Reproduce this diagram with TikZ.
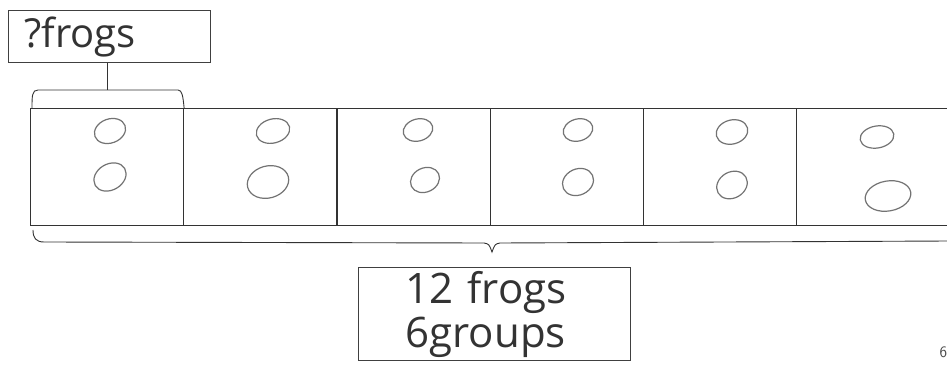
\documentclass[tikz,border=0pt]{standalone}
\usepackage{fontspec}
\setmainfont{Open Sans}
\begin{document}
\begin{tikzpicture}[x=1pt,y=-1pt,
  pen/.style={draw=black!80,line width=1.1pt},
  frog/.style={draw=black!55,line width=1.2pt},
  cellbox/.style={pen,minimum width=153pt,minimum height=117pt,inner sep=0pt,anchor=north west},
  labelbox/.style={draw=black!75,line width=1.1pt,inner sep=0pt,font=\fontsize{40}{40}\selectfont\color{black!80}},
]
\useasboundingbox (0,0) rectangle (947,379);
\clip (0,0) rectangle (947,379);
\fill[white] (0,0) rectangle (947,379);
% cells
\node[cellbox] (c1) at (30,108) {};
\node[cellbox] (c2) at (183,108) {};
\node[cellbox] (c3) at (337,108) {};
\node[cellbox] (c4) at (490,108) {};
\node[cellbox] (c5) at (643,108) {};
\node[cellbox,minimum width=170pt] (c6) at (796,108) {};
% frogs
\draw[frog,rotate around={20:(110,131)}] (110,131) ellipse [x radius=16, y radius=12];
\draw[frog,rotate around={30:(110,177)}] (110,177) ellipse [x radius=17, y radius=13];
\draw[frog,rotate around={15:(273,131)}] (273,131) ellipse [x radius=17, y radius=12];
\draw[frog,rotate around={15:(268,182)}] (268,182) ellipse [x radius=21, y radius=16];
\draw[frog,rotate around={15:(418,130)}] (418,130) ellipse [x radius=15, y radius=11];
\draw[frog,rotate around={25:(425,180)}] (425,180) ellipse [x radius=15, y radius=12];
\draw[frog,rotate around={15:(578,130)}] (578,130) ellipse [x radius=15, y radius=11];
\draw[frog,rotate around={25:(578,182)}] (578,182) ellipse [x radius=16, y radius=13];
\draw[frog,rotate around={15:(732,132)}] (732,132) ellipse [x radius=16, y radius=12];
\draw[frog,rotate around={30:(732,185)}] (732,185) ellipse [x radius=16, y radius=13];
\draw[frog,rotate around={10:(877,137)}] (877,137) ellipse [x radius=17, y radius=11];
\draw[frog,rotate around={10:(888,196)}] (888,196) ellipse [x radius=23, y radius=15];
% label boxes
\node[labelbox,minimum width=202pt,minimum height=52pt,anchor=north west,text width=194pt,align=left] (top) at (8,10) {\hspace*{12pt}\raisebox{-2pt}{?frogs}};
\node[labelbox,minimum width=272pt,minimum height=93pt,anchor=north west,text width=250pt,align=left,font=\fontsize{42}{44}\selectfont\color{black!80}] (bot) at (358,267) {\hspace*{36pt}12 frogs\\\hspace*{36pt}6groups};
% top brace
\coordinate (tb) at (107,90);
\draw[pen,line width=0.9pt] (c1.north west) ++(2,0) .. controls (32,96) and (32,90) .. (38,90) -- (178,90) .. controls (182,90) and (183,96) .. (c1.north east);
\draw[pen,line width=0.9pt] (tb) -- (tb |- top.south);
% bottom brace
\coordinate (bp) at (492,252);
\draw[pen,line width=0.9pt] (33,230) .. controls (33,238) and (36,242) .. (44,242) -- (484,243) .. controls (489,244) .. (bp) .. controls (495,244) .. (500,243) -- (950,241);
% page number
\node[font=\fontsize{16}{16}\selectfont\sffamily\color{black!70},anchor=west] (pg) at (936,352) {6};
\end{tikzpicture}
\end{document}
